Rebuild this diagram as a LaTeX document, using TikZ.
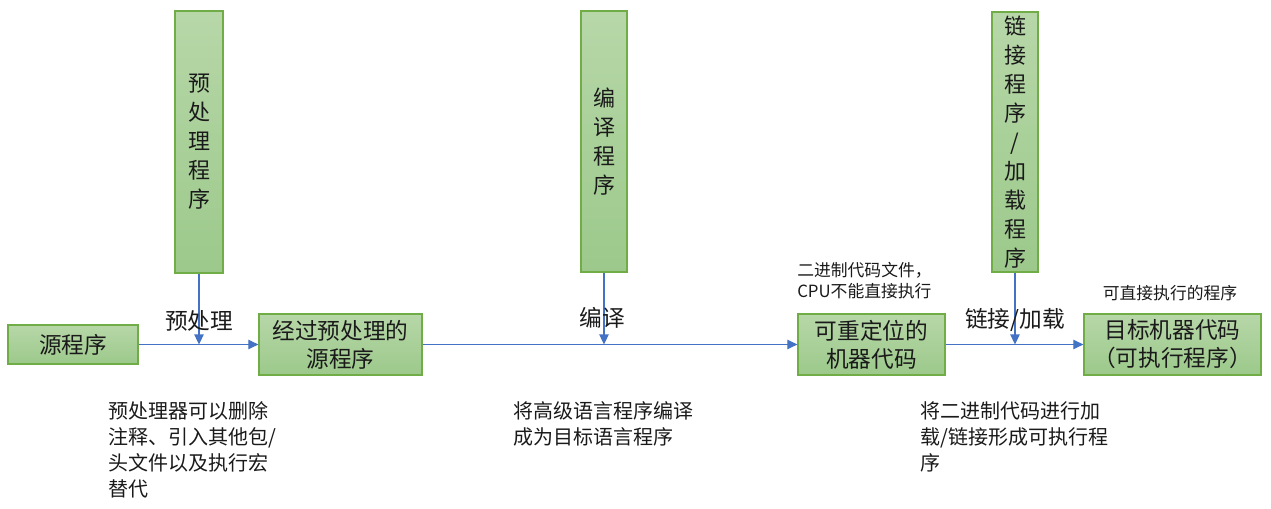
\documentclass[tikz,border=0pt]{standalone}
\usepackage{fontspec}
\setmainfont{Noto Sans CJK SC}
\usetikzlibrary{arrows.meta,positioning,calc}
\definecolor{gtop}{HTML}{B7D7A8}
\definecolor{gbot}{HTML}{9CC98B}
\definecolor{gline}{HTML}{70AD47}
\definecolor{arrblue}{HTML}{4472C4}
\definecolor{ink}{HTML}{1A1A1A}
\tikzset{
  gbox/.style={draw=gline,top color=gtop,bottom color=gbot,line width=0.9pt,align=center,
    inner sep=0pt,text=ink,font=\fontsize{17}{21}\selectfont},
  vbox/.style={gbox,font=\fontsize{16.5}{21.75}\selectfont,minimum width=35pt},
  arr/.style={-{Triangle[length=7.5pt,width=7pt]},line width=0.8pt,draw=arrblue},
  steplabel/.style={font=\fontsize{17}{21}\selectfont,text=ink,inner sep=0pt},
  note/.style={font=\fontsize{12.6}{15.75}\selectfont,text=ink,align=left,inner sep=0pt},
  remark/.style={font=\fontsize{15}{19.5}\selectfont,text=ink,align=left,inner sep=0pt,
    anchor=north west},
}
\begin{document}
\begin{tikzpicture}[x=0.75pt,y=-0.75pt]
  \useasboundingbox (0,0) rectangle (1271,509);
  % main row
  \node[gbox,minimum width=97.5pt,minimum height=29.25pt] (src) at (73,344.5) {源程序};
  \node[gbox,minimum width=122.25pt,minimum height=45.75pt] (pp) at (340.5,344.5) {经过预处理的\\源程序};
  \node[gbox,minimum width=110.25pt,minimum height=45.75pt] (rel) at (871.5,344.5) {可重定位的\\机器代码};
  \node[gbox,minimum width=132.75pt,minimum height=45.75pt] (exe) at (1172.5,344.5) {目标机器代码\\（可执行程序）};
  % tools
  \node[vbox,minimum width=36pt,minimum height=196.5pt] (pre) at (199,142) {预\\处\\理\\程\\序};
  \node[vbox,minimum width=34.5pt,minimum height=195.75pt] (cmp) at (604,141.5) {编\\译\\程\\序};
  \node[vbox,minimum width=34.5pt,minimum height=195pt] (lnk) at (1015,142) {链\\接\\程\\序\\/\\加\\载\\程\\序};
  \draw[arr] (src) -- (pp);
  \draw[arr] (pp) -- (rel);
  \draw[arr] (rel) -- (exe);
  \draw[arr] (pre.south) -- (pre.south |- pp.west);
  \draw[arr] (cmp.south) -- (cmp.south |- rel.west);
  \draw[arr] (lnk.south) -- (lnk.south |- rel.east);
  \node[steplabel] (preL) at (199,321) {预处理};
  \node[steplabel] (cmpL) at (602,318) {编译};
  \node[steplabel] (lnkL) at (1015,320) {链接/加载};
  \node[note,anchor=west] (relN) at (797,281) {二进制代码文件，\\CPU不能直接执行};
  \node[note] (exeN) at (1170,293) {可直接执行的程序};
  \node[remark] (preR) at (108,401) {预处理器可以删除\\注释、引入其他包/\\头文件以及执行宏\\替代};
  \node[remark] (cmpR) at (513,401) {将高级语言程序编译\\成为目标语言程序};
  \node[remark] (lnkR) at (920,401) {将二进制代码进行加\\载/链接形成可执行程\\序};
\end{tikzpicture}
\end{document}
